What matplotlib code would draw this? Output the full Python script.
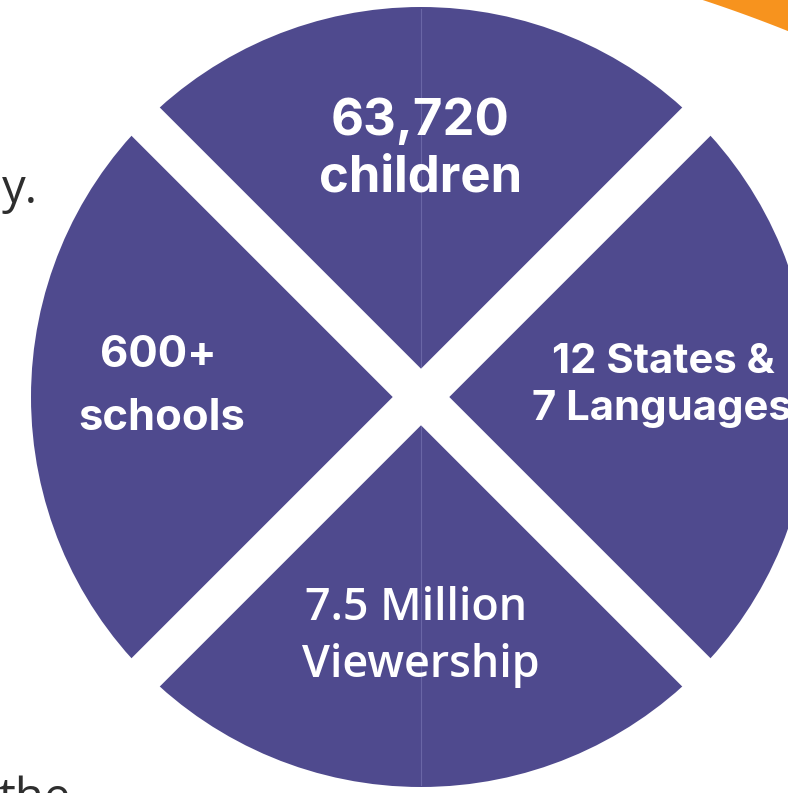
import numpy as np
import matplotlib
matplotlib.use("Agg")
import matplotlib.pyplot as plt
from matplotlib.patches import Polygon

# ---- data ----
segments = [1, 1, 1, 1]                       # four equal quadrants
top_lines = ["63,720", "children"]
right_lines = ["12 States &", "7 Languages"]
bottom_lines = ["7.5 Million", "Viewership"]
left_lines = ["600+", "schools"]
side_text_top = "y."
side_text_bottom = "the"

# ---- style ----
W, H = 788, 793
PURPLE = "#4f4a8e"
LINE = "#6a66a6"
ORANGE = "#f7931e"
CX, CY, R = 421, 397, 390
GAP = 40

fig = plt.figure(figsize=(W / 100, H / 100), dpi=100)
ax = fig.add_axes([0, 0, 1, 1])

ax.pie(segments, radius=R, center=(CX, CY), startangle=45,
       colors=[PURPLE] * len(segments), wedgeprops=dict(linewidth=0))
ax.set_xlim(0, W)
ax.set_ylim(H, 0)
ax.set_aspect("auto")
ax.axis("off")

# faint vertical seam through the top and bottom quadrants
ax.plot([CX, CX], [CY - R + 2, CY + R - 2], color=LINE, lw=0.8, zorder=2)

# white X gaps along the wedge boundaries
lw_pt = GAP * 72 / 100
for ang in (45, 135):
    a = np.deg2rad(ang)
    dx, dy = np.cos(a) * (R + 30), np.sin(a) * (R + 30)
    ax.plot([CX - dx, CX + dx], [CY - dy, CY + dy], color="white",
            lw=lw_pt, solid_capstyle="butt", zorder=3)

# orange shape in the top-right corner
acx, acy, ar = 242, 1397, 1471
xs = np.linspace(680, W + 5, 60)
ys = acy - np.sqrt(ar ** 2 - (xs - acx) ** 2)
pts = np.column_stack([np.r_[xs, W + 5, 680], np.r_[ys, -5, -5]])
ax.add_patch(Polygon(pts, closed=True, facecolor=ORANGE, edgecolor="none", zorder=4))

fig.canvas.draw()
renderer = fig.canvas.get_renderer()


def block(lines, centers, baselines, targets, family, weight, xs_left=None):
    base = 30
    meas, tgt = 0.0, 0.0
    for s, tw in zip(lines, targets):
        if tw is None:
            continue
        t = ax.text(0, 0, s, fontsize=base, family=family, weight=weight)
        meas += t.get_window_extent(renderer).width
        tgt += tw
        t.remove()
    size = base * tgt / meas
    for i, s in enumerate(lines):
        if xs_left is not None and xs_left[i] is not None:
            ax.text(xs_left[i], baselines[i], s, fontsize=size, family=family,
                    weight=weight, color="white", ha="left", va="baseline", zorder=5)
        else:
            ax.text(centers[i], baselines[i], s, fontsize=size, family=family,
                    weight=weight, color="white", ha="center", va="baseline", zorder=5)


BOLD = ["Inter", "DejaVu Sans"]
block(top_lines, [420, 421], [135, 192], [165, 217], BOLD, "bold")
block(left_lines, [158, 162], [367, 430], [113, 170], BOLD, "bold")
block(right_lines, [663, None], [373, 420], [223, None], BOLD, "bold", xs_left=[None, 532])
block(bottom_lines, [416, 421], [620, 677], [222, 238], ["Open Sans", "DejaVu Sans"], "semibold")

ax.text(2, 203, side_text_top, fontsize=34, family=["Open Sans", "DejaVu Sans"],
        color="#2e2e2e", ha="left", va="baseline")
ax.text(-2, 812, side_text_bottom, fontsize=34, family=["Open Sans", "DejaVu Sans"],
        color="#2e2e2e", ha="left", va="baseline")

fig.savefig("out.png", dpi=100)
